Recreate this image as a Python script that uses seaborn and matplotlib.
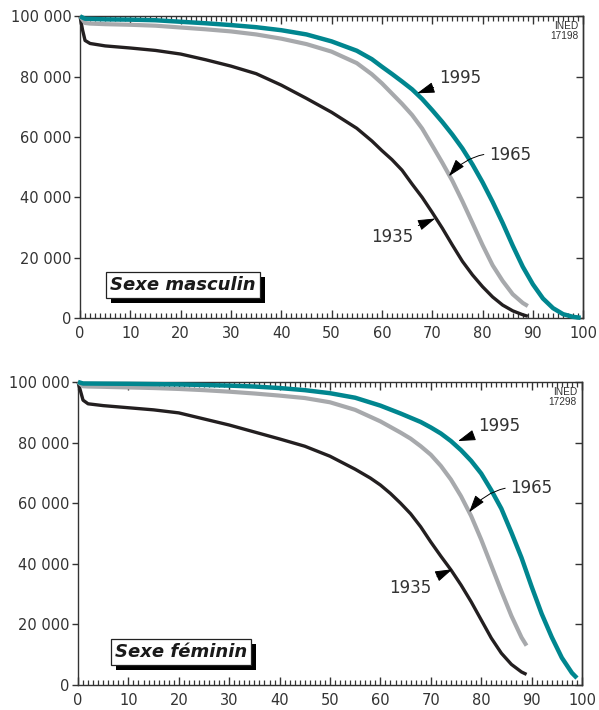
import numpy as np
import pandas as pd
import matplotlib
matplotlib.use("Agg")
import matplotlib.pyplot as plt
import matplotlib.patheffects as pe
from matplotlib.ticker import MultipleLocator, FuncFormatter, FixedLocator
import seaborn as sns

# ---------------- data (survivors per 100 000) ----------------
# Sexe masculin
m1995_ages = [0, 1, 5, 10, 15, 20, 25, 30, 35, 40, 45, 50, 55, 58, 60, 62, 64, 66, 68, 70, 72, 74,
              76, 78, 80, 82, 84, 86, 88, 90, 92, 94, 96, 98, 99.5]
m1995 = [100000, 99200, 99000, 98900, 98700, 98200, 97700, 97100, 96400, 95400, 94000, 91700,
         88600, 85800, 83300, 80900, 78400, 75800, 72600, 68900, 65000, 60800, 56200, 50900,
         45000, 38500, 31500, 24000, 17000, 11200, 6500, 3300, 1300, 400, 100]
m1965_ages = [0, 1, 2, 5, 10, 15, 20, 25, 30, 35, 40, 45, 50, 55, 58, 60, 62, 64, 66, 68, 70, 72,
              74, 76, 78, 80, 82, 84, 86, 88, 89]
m1965 = [100000, 97800, 97600, 97400, 97200, 96900, 96300, 95700, 95000, 94000, 92600, 90800,
         88300, 84500, 80800, 77800, 74400, 71000, 67300, 62800, 57200, 51500, 45500, 38700,
         31500, 24200, 17500, 12300, 7900, 5000, 4000]
m1935_ages = [0, 0.5, 1, 2, 5, 10, 15, 20, 25, 30, 35, 40, 45, 50, 55, 58, 60, 62, 64, 66, 68, 70,
              72, 74, 76, 78, 80, 82, 84, 86, 88, 89]
m1935 = [100000, 95500, 92000, 91000, 90200, 89500, 88700, 87500, 85600, 83500, 81000, 77200,
         72800, 68200, 62900, 58700, 55500, 52500, 49000, 44400, 40000, 35000, 29800, 24200,
         18800, 14300, 10400, 7000, 4300, 2400, 1100, 600]

# Sexe féminin
f1995_ages = [0, 1, 5, 10, 15, 20, 25, 30, 35, 40, 45, 50, 55, 60, 64, 68, 70, 72, 74, 76, 78, 80,
              82, 84, 86, 88, 90, 92, 94, 96, 98, 99]
f1995 = [100000, 99500, 99450, 99400, 99300, 99200, 99000, 98800, 98500, 98000, 97300, 96300,
         94800, 92200, 89600, 86800, 85000, 83000, 80500, 77500, 74000, 69800, 64300, 58200,
         50300, 42000, 32500, 23500, 15800, 9000, 4000, 2300]
f1965_ages = [0, 1, 2, 5, 10, 15, 20, 25, 30, 35, 40, 45, 50, 55, 60, 64, 66, 68, 70, 72, 74, 76,
              78, 80, 82, 84, 86, 88, 89]
f1965 = [100000, 98600, 98500, 98400, 98200, 98000, 97700, 97300, 96800, 96200, 95500, 94700,
         93300, 90800, 87000, 83300, 81300, 78800, 76000, 72300, 67800, 62300, 55800, 48000,
         39500, 31000, 22800, 15700, 13000]
f1935_ages = [0, 0.5, 1, 2, 5, 10, 15, 20, 25, 30, 35, 40, 45, 50, 55, 58, 60, 62, 64, 66, 68, 70,
              72, 74, 76, 78, 80, 82, 84, 86, 88, 89]
f1935 = [100000, 97000, 94000, 92800, 92200, 91500, 90800, 89800, 87800, 85800, 83500, 81200,
         78800, 75500, 71200, 68300, 66000, 63200, 60000, 56500, 52200, 47200, 42500, 38000,
         33000, 27500, 21500, 15500, 10500, 6800, 4300, 3500]

years = ["1935", "1965", "1995"]
panel_titles = ["Sexe masculin", "Sexe féminin"]
panel_codes = ["INED\n17198", "INED\n17298"]
x_ticks = [0, 10, 20, 30, 40, 50, 60, 70, 80, 90, 100]
y_ticks = [0, 20000, 40000, 60000, 80000, 100000]

colors = {"1935": "#231f20", "1965": "#a7a9ac", "1995": "#00868f"}
widths = {"1935": 2.4, "1965": 3.0, "1995": 3.2}

def make_df(a, v, label):
    return pd.DataFrame({"age": a, "survivors": v, "year": label})

panels = [
    pd.concat([make_df(m1935_ages, m1935, "1935"), make_df(m1965_ages, m1965, "1965"),
               make_df(m1995_ages, m1995, "1995")]),
    pd.concat([make_df(f1935_ages, f1935, "1935"), make_df(f1965_ages, f1965, "1965"),
               make_df(f1995_ages, f1995, "1995")]),
]

# annotation positions (data coords): label -> (text xy, arrow tip xy)
annots = [
    {"1995": ((75.5, 79500), (67.0, 74500)),
     "1965": ((85.5, 54000), (73.3, 47000)),
     "1935": ((62.0, 27000), (70.6, 33000))},
    {"1995": ((83.5, 85500), (75.4, 80500)),
     "1965": ((90.0, 65000), (77.6, 57000)),
     "1935": ((66.0, 32000), (74.3, 38200))},
]

sns.set_style("white")
spine_col = "#333333"
text_col = "#333333"
plt.rcParams.update({
    "font.family": ["DejaVu Sans"],
    "xtick.direction": "in", "xtick.top": True, "xtick.bottom": True,
    "xtick.major.size": 6, "xtick.minor.size": 3.5,
    "xtick.major.width": 1.0, "xtick.minor.width": 0.9,
    "xtick.color": spine_col, "xtick.minor.visible": True,
    "ytick.left": True, "ytick.direction": "out", "ytick.major.size": 4,
    "ytick.major.width": 1.0, "ytick.color": spine_col,
})

fig = plt.figure(figsize=(5.99, 7.10), dpi=100)
axes_rects = [[0.1336, 0.552, 0.840, 0.425], [0.1302, 0.0352, 0.8414, 0.4268]]

for i, rect in enumerate(axes_rects):
    ax = fig.add_axes(rect)
    df = panels[i]
    for yr in ["1935", "1965", "1995"]:
        sub = df[df["year"] == yr]
        sns.lineplot(data=sub, x="age", y="survivors", ax=ax, color=colors[yr],
                     lw=widths[yr], legend=False, solid_capstyle="butt", sort=False,
                     solid_joinstyle="round",
                     clip_on=False, zorder={"1935": 3, "1965": 4, "1995": 5}[yr])
    ax.set_xlim(0, 100)
    ax.set_ylim(0, 100000)
    ax.set_xlabel("")
    ax.set_ylabel("")
    ax.xaxis.set_major_locator(FixedLocator(x_ticks))
    ax.xaxis.set_minor_locator(MultipleLocator(1))
    ax.yaxis.set_major_locator(FixedLocator(y_ticks))
    ax.yaxis.set_minor_locator(FixedLocator([]))
    ax.xaxis.set_ticks_position("both")
    ax.yaxis.set_major_formatter(FuncFormatter(lambda v, p: f"{int(v):,}".replace(",", " ")))
    ax.tick_params(axis="x", which="both", direction="in", top=True, bottom=True,
                   color=spine_col)
    ax.tick_params(axis="x", which="major", length=6, width=1.0, labelsize=10.5,
                   labelcolor=text_col, pad=6)
    ax.tick_params(axis="x", which="minor", length=3.5, width=0.9)
    ax.tick_params(axis="y", which="major", direction="out", length=4, width=1.0,
                   left=True, right=False, color=spine_col, labelsize=10.5,
                   labelcolor=text_col, pad=2)
    sec = ax.secondary_yaxis("right")
    sec.set_yticks(y_ticks)
    sec.tick_params(direction="in", length=5, width=1.0, color=spine_col, labelright=False)
    sec.spines["right"].set_color(spine_col)
    sec.spines["right"].set_linewidth(1.0)
    for s in ax.spines.values():
        s.set_color(spine_col)
        s.set_linewidth(1.0)

    # code label
    ax.text(99.0, 98500, panel_codes[i], ha="right", va="top", fontsize=7.3,
            family=["Liberation Sans"], color=text_col, linespacing=1.05)

    # panel title box with drop shadow
    t = ax.text(20.5, 10900, panel_titles[i], ha="center", va="center", fontsize=13,
                fontweight="bold", fontstyle="italic", color="#1a1a1a", zorder=7,
                bbox=dict(boxstyle="square,pad=0.22", fc="white", ec="#222222", lw=0.9))
    t.get_bbox_patch().set_path_effects([
        pe.SimplePatchShadow(offset=(3.5, -3.5), shadow_rgbFace="black", alpha=1.0),
        pe.Normal()])

    # year annotations
    for yr in years:
        (txy, tip) = annots[i][yr]
        conn = "arc3,rad=0.3" if yr == "1965" else "arc3,rad=0"
        ax.annotate(yr, xy=tip, xytext=txy, ha="center", va="center", fontsize=12,
                    color=text_col, zorder=8,
                    arrowprops=dict(arrowstyle="-|>,head_length=0.9,head_width=0.28",
                                    color="black", lw=0.7, shrinkA=1.5, shrinkB=0,
                                    connectionstyle=conn))

fig.savefig("out.png", dpi=100)
